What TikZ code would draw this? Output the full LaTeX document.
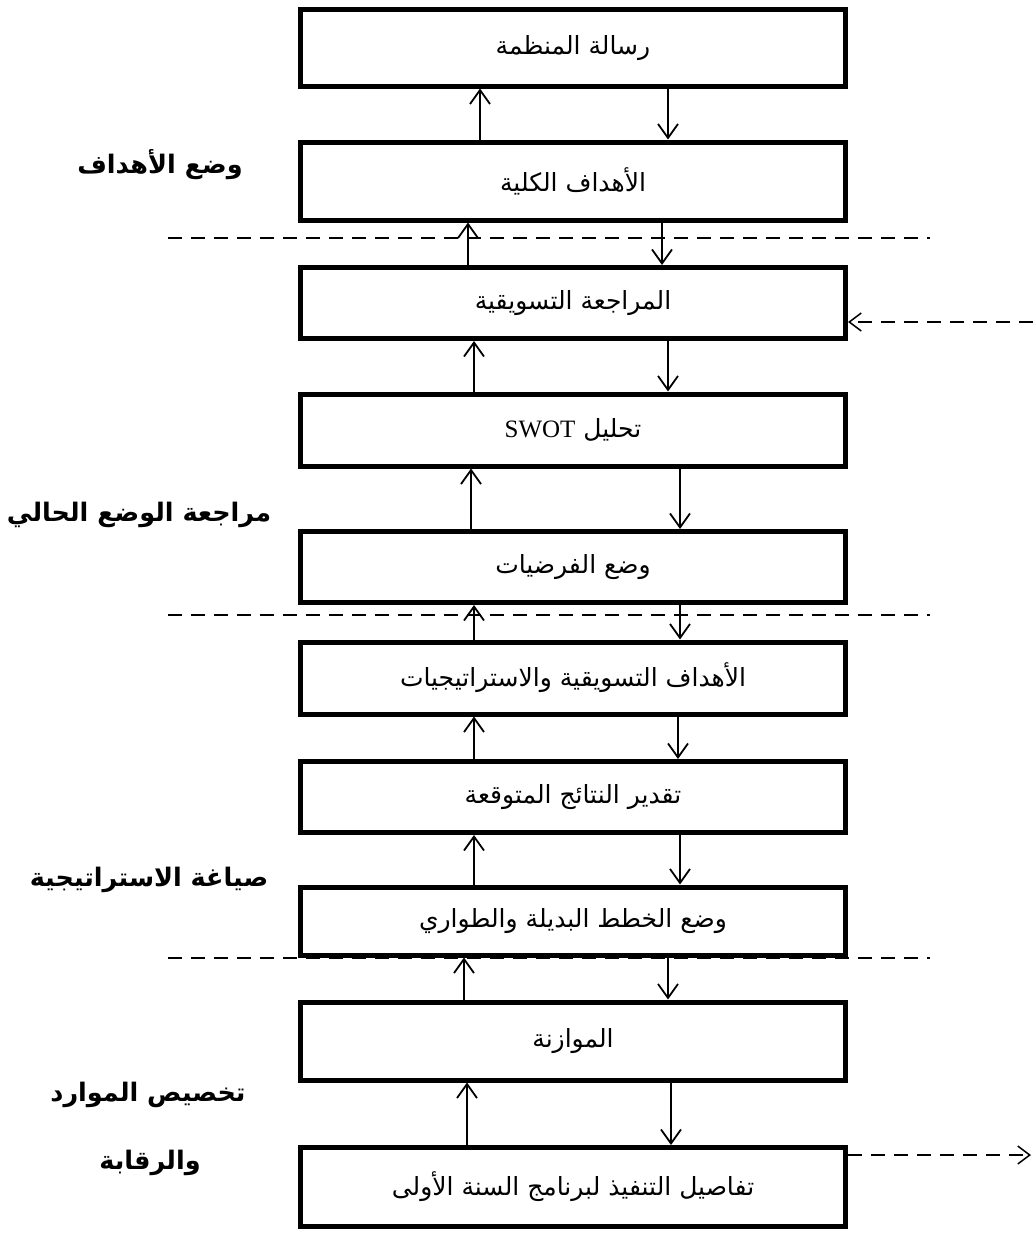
\documentclass[tikz,border=0pt]{standalone}
\usepackage{fontspec}
\usetikzlibrary{arrows.meta}
\TeXXeTstate=1
\newfontfamily\arabicfont[Script=Arabic]{DejaVu Sans}
\newfontfamily\latinfont{Liberation Serif}
\newcommand{\AR}[1]{\beginR #1\endR}
\begin{document}
\begin{tikzpicture}[x=1pt,y=-1pt,
  box/.style={draw, line width=5pt, minimum width=545pt, inner sep=0pt,
    font=\arabicfont\fontsize{25}{30}\selectfont},
  arr/.style={line width=1.8pt, -{Straight Barb[length=14pt,width=20pt]}},
  dsh/.style={line width=1.5pt, dash pattern=on 14pt off 9pt},
  dsharr/.style={dsh, -{Straight Barb[length=12pt,width=18pt]}},
  lab/.style={font=\arabicfont\bfseries\fontsize{25.5}{30}\selectfont}]
\useasboundingbox (0,0) rectangle (1033,1239);

\node[box, minimum height=76pt] (b1) at (573,48) {\AR{رسالة المنظمة}};
\node[box, minimum height=78pt] (b2) at (573,181) {\AR{الأهداف الكلية}};
\node[box, minimum height=71pt] (b3) at (573,303) {\AR{المراجعة التسويقية}};
\node[box, minimum height=72pt] (b4) at (573,430) {\AR{تحليل \beginL{\latinfont SWOT}\endL}};
\node[box, minimum height=71pt] (b5) at (573,567) {\AR{وضع الفرضيات}};
\node[box, minimum height=72pt] (b6) at (573,678) {\AR{الأهداف التسويقية والاستراتيجيات}};
\node[box, minimum height=71pt] (b7) at (573,797) {\AR{تقدير النتائج المتوقعة}};
\node[box, minimum height=68pt] (b8) at (573,921) {\AR{وضع الخطط البديلة والطواري}};
\node[box, minimum height=78pt] (b9) at (573,1041) {\AR{الموازنة}};
\node[box, minimum height=79pt] (b10) at (573,1187) {\AR{تفاصيل التنفيذ لبرنامج السنة الأولى}};

\foreach \lo/\hi/\u/\d in {b2/b1/-93/95, b3/b2/-105/89, b4/b3/-99/95, b5/b4/-102/107,
  b6/b5/-99/107, b7/b6/-99/105, b8/b7/-99/107, b9/b8/-109/95, b10/b9/-106/98} {
  \draw[arr] ([xshift=\u pt]\lo.north) -- ([xshift=\u pt]\hi.south);
  \draw[arr] ([xshift=\d pt]\hi.south) -- ([xshift=\d pt]\lo.north);
}

\draw[dsh] (168,238) -- (930,238);
\draw[dsh] (168,615) -- (930,615);
\draw[dsh] (168,958) -- (930,958);

\coordinate (in3) at (1033,322);
\coordinate (out10) at (1031,1155);
\draw[dsharr] (in3) -- (b3.east |- in3);
\draw[dsharr] (b10.east |- out10) -- (out10);

\node[lab] (l1) at (160,165) {\AR{وضع الأهداف}};
\node[lab] (l2) at (139,515) {\AR{مراجعة الوضع الحالي}};
\node[lab] (l3) at (149,880) {\AR{صياغة الاستراتيجية}};
\node[lab] (l4) at (148,1095) {\AR{تخصيص الموارد}};
\node[lab] (l5) at (150,1163) {\AR{والرقابة}};
\end{tikzpicture}
\end{document}
